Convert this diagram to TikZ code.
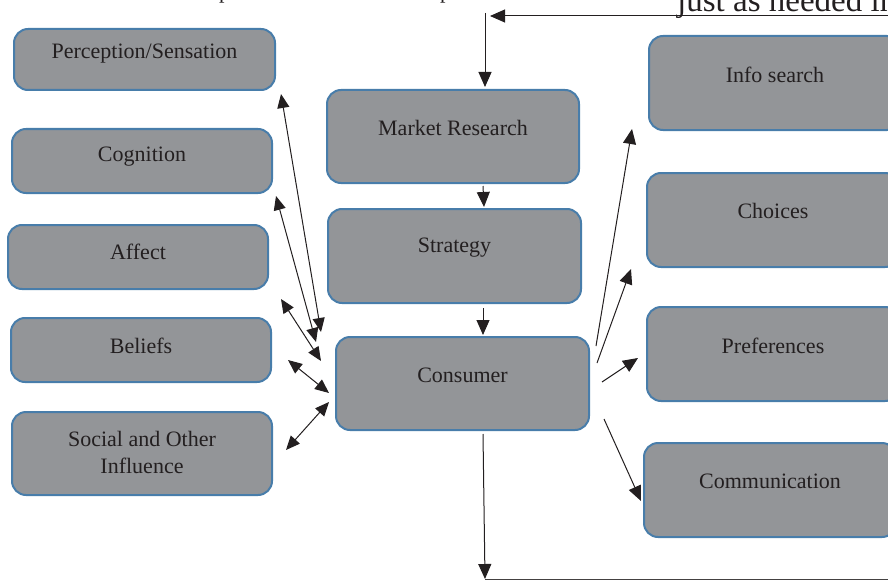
\documentclass[tikz,border=0pt]{standalone}
\usepackage{fontspec}
\setmainfont{Liberation Serif}
\usetikzlibrary{arrows.meta,calc}
\definecolor{boxfill}{RGB}{147,149,152}
\definecolor{boxline}{RGB}{72,125,170}
\definecolor{ink}{RGB}{35,31,32}
\begin{document}
\begin{tikzpicture}[x=1pt,y=-1pt,
  box/.style={draw=boxline, line width=2pt, fill=boxfill, rounded corners=14pt, inner sep=0pt},
  lbl/.style={text=ink, font=\fontsize{22}{27}\selectfont, align=center, inner sep=0pt},
  conn/.style={draw=ink, line width=1pt, -{Triangle[length=15pt,width=13pt]}},
  biconn/.style={draw=ink, line width=1pt, {Triangle[length=14pt,width=12pt]}-{Triangle[length=14pt,width=12pt]}},
  plainline/.style={draw=ink!85, line width=1pt}]
\useasboundingbox (0,0) rectangle (888,583);
\clip (0,0) rectangle (888,583);

% cut-off text fragments at the top
\node[lbl, anchor=base west] (frag1) at (219,-1) {p};
\node[lbl, anchor=base west] (frag2) at (440,-1) {p};
\node[anchor=base west, inner sep=0pt, text=ink, font=\fontsize{33}{38}\selectfont] (toptxt) at (677,12) {just as needed in};

% left column
\node[box, minimum width=261pt, minimum height=61pt] (perc) at (144.5,59.5) {};
\node[lbl] (percT) at ([yshift=5.5pt]perc.center) {Perception/Sensation};
\node[box, minimum width=260pt, minimum height=64pt] (cog) at (142,161) {};
\node[lbl] (cogT) at ([yshift=4pt]cog.center) {Cognition};
\node[box, minimum width=260pt, minimum height=64pt] (aff) at (138,257) {};
\node[lbl] (affT) at ([yshift=5pt]aff.center) {Affect};
\node[box, minimum width=260pt, minimum height=64pt] (bel) at (141,350) {};
\node[lbl] (belT) at ([yshift=4pt]bel.center) {Beliefs};
\node[box, minimum width=260pt, minimum height=83pt] (soc) at (142,453.5) {};
\node[lbl] (socT) at ([yshift=1pt]soc.center) {Social and Other\\Influence};

% centre column
\node[box, minimum width=252pt, minimum height=93pt] (mr) at (453,136.5) {};
\node[lbl] (mrT) at ([yshift=8.5pt]mr.center) {Market Research};
\node[box, minimum width=253pt, minimum height=94pt] (str) at (454.5,256) {};
\node[lbl] (strT) at ([yshift=8pt]str.center) {Strategy};
\node[box, minimum width=253pt, minimum height=93pt] (con) at (462.5,383.5) {};
\node[lbl] (conT) at ([yshift=8.5pt]con.center) {Consumer};

% right column
\node[box, minimum width=252pt, minimum height=94pt] (info) at (775,83) {};
\node[lbl] (infoT) at ([yshift=8pt]info.center) {Info search};
\node[box, minimum width=252pt, minimum height=94pt] (cho) at (773,220) {};
\node[lbl] (choT) at ([yshift=9pt]cho.center) {Choices};
\node[box, minimum width=252pt, minimum height=94pt] (pref) at (773,354) {};
\node[lbl] (prefT) at ([yshift=8pt]pref.center) {Preferences};
\node[box, minimum width=252pt, minimum height=94pt] (comm) at (770,490) {};
\node[lbl] (commT) at ([yshift=9pt]comm.center) {Communication};

% feedback loop
\coordinate (topR) at (890,16);
\coordinate (topTip) at (490,16);
\coordinate (topV) at (485,13);
\coordinate (botV) at (485,579);
\coordinate (botR) at (890,579);
\draw[conn] (topR) -- (topTip);
\draw[conn] (topV) -- ([shift={(32,-2)}]mr.north);
\draw[conn] ([shift={(20.5,3)}]con.south) -- (botV);
\draw[plainline] (botV) -- (botR);

% centre flow
\draw[conn] ([shift={(30,2)}]mr.south) -- ([shift={(29.5,-1)}]str.north);
\draw[conn] ([shift={(28.5,4)}]str.south) -- ([shift={(20.5,-1)}]con.north);

% left two-way links
\draw[biconn] ([shift={(5,3)}]perc.south east) -- ([shift={(-14,-4)}]con.north west);
\draw[biconn] ([shift={(3,2)}]cog.south east) -- ([shift={(-19,6)}]con.north west);
\draw[biconn] ([shift={(12,9)}]aff.south east) -- ([shift={(-14,25)}]con.north west);
\draw[biconn] ([shift={(16,10)}]bel.east) -- ([shift={(-6,9.5)}]con.west);
\draw[biconn] ([shift={(13,-3.5)}]soc.east) -- ([shift={(-6,18.5)}]con.west);

% right outputs
\draw[conn] ([shift={(6,-37.5)}]con.east) -- ([shift={(-16,-2)}]info.south west);
\draw[conn] ([shift={(7,-20.5)}]con.east) -- ([shift={(-15,1)}]cho.south west);
\draw[conn] ([shift={(12,-1.5)}]con.east) -- ([shift={(-8,4)}]pref.west);
\draw[conn] ([shift={(14,35.5)}]con.east) -- ([shift={(-2,11)}]comm.west);
\end{tikzpicture}
\end{document}
